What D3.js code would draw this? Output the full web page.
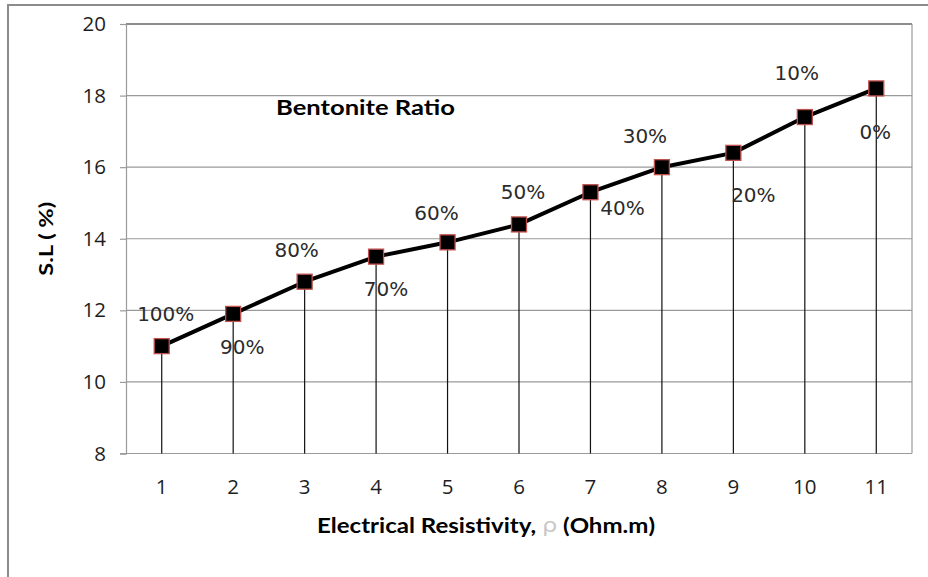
<!DOCTYPE html>
<html>
<head>
<meta charset="utf-8">
<script src="https://cdn.jsdelivr.net/npm/d3@7/dist/d3.min.js"></script>
<style>
  html, body { margin: 0; padding: 0; background: #fff; }
  svg { display: block; }
</style>
</head>
<body>
<svg id="chart" width="928" height="577"></svg>
<script>
// Shrinkage limit vs. electrical resistivity, labelled by bentonite ratio
const categories = ["1", "2", "3", "4", "5", "6", "7", "8", "9", "10", "11"];
const shrinkageLimit = [11.0, 11.9, 12.8, 13.5, 13.9, 14.4, 15.3, 16.0, 16.4, 17.4, 18.2];
const bentoniteRatio = ["100%", "90%", "80%", "70%", "60%", "50%", "40%", "30%", "20%", "10%", "0%"];
const yTicks = [8, 10, 12, 14, 16, 18, 20];

// label placement around each marker (dx, dy in px)
const labelOffsets = [
  [4, -32], [9, 33], [-8, -32], [10, 32], [-11, -29], [4, -32],
  [32, 16], [-17, -31], [20, 42], [-8, -44], [-1, 44]
];

const svg = d3.select("#chart");
const W = 928, H = 577;
const plot = { left: 126, right: 912, top: 24, bottom: 453.5 };
const sans = "'Open Sans', Lato, sans-serif";

// outer chart frame
svg.append("rect")
  .attr("x", 8).attr("y", 5)
  .attr("width", W + 20).attr("height", H + 20)
  .attr("fill", "#fff")
  .attr("stroke", "#8c8c8c").attr("stroke-width", 2);

const x = d3.scaleBand().domain(categories).range([plot.left, plot.right]);
const y = d3.scaleLinear().domain([8, 20]).range([plot.bottom, plot.top]);
const cx = d => x(d) + x.bandwidth() / 2;

// gridlines
svg.append("g")
  .selectAll("line").data(yTicks.slice(1, -1)).join("line")
  .attr("x1", plot.left).attr("x2", plot.right)
  .attr("y1", d => y(d)).attr("y2", d => y(d))
  .attr("stroke", "#9a9a9a").attr("stroke-width", 1.2);

// plot area border
svg.append("line")
  .attr("x1", plot.left).attr("x2", plot.right)
  .attr("y1", y(20)).attr("y2", y(20))
  .attr("stroke", "#1a1a1a").attr("stroke-width", 1.2);
svg.append("line")
  .attr("x1", plot.right).attr("x2", plot.right)
  .attr("y1", plot.top).attr("y2", plot.bottom)
  .attr("stroke", "#9a9a9a").attr("stroke-width", 1.2);

// y axis
const yAxis = svg.append("g")
  .attr("transform", `translate(${plot.left},0)`)
  .call(d3.axisLeft(y).tickValues(yTicks).tickSize(6).tickPadding(14));
yAxis.select(".domain").attr("stroke", "#9a9a9a").attr("stroke-width", 1.2);
yAxis.selectAll(".tick line").attr("stroke", "#9a9a9a").attr("stroke-width", 1.2);
yAxis.selectAll(".tick text")
  .attr("font-family", sans)
  .attr("font-size", 20.5).attr("fill", "#1e1e1e");

// x axis
const xAxis = svg.append("g")
  .attr("transform", `translate(0,${plot.bottom})`)
  .call(d3.axisBottom(x).tickSize(0).tickPadding(26));
xAxis.select(".domain").remove();
svg.append("line")
  .attr("x1", plot.left - 6).attr("x2", plot.right)
  .attr("y1", plot.bottom).attr("y2", plot.bottom)
  .attr("stroke", "#9a9a9a").attr("stroke-width", 1.2);
xAxis.selectAll(".tick text")
  .attr("font-family", sans)
  .attr("font-size", 20.5).attr("fill", "#1e1e1e");

// drop lines
svg.append("g")
  .selectAll("line").data(categories).join("line")
  .attr("x1", d => cx(d)).attr("x2", d => cx(d))
  .attr("y1", (d, i) => y(shrinkageLimit[i])).attr("y2", plot.bottom)
  .attr("stroke", "#111").attr("stroke-width", 1.2);

// series line
const line = d3.line().x((d, i) => cx(categories[i])).y(d => y(d));
svg.append("path")
  .datum(shrinkageLimit)
  .attr("d", line)
  .attr("fill", "none").attr("stroke", "#000").attr("stroke-width", 4)
  .attr("stroke-linejoin", "round");

// markers
const ms = 15;
svg.append("g")
  .selectAll("rect").data(shrinkageLimit).join("rect")
  .attr("x", (d, i) => cx(categories[i]) - ms / 2)
  .attr("y", d => y(d) - ms / 2)
  .attr("width", ms).attr("height", ms)
  .attr("fill", "#000").attr("stroke", "#c0504d").attr("stroke-width", 1.3);

// data labels
svg.append("g")
  .selectAll("text").data(bentoniteRatio).join("text")
  .attr("x", (d, i) => cx(categories[i]) + labelOffsets[i][0])
  .attr("y", (d, i) => y(shrinkageLimit[i]) + labelOffsets[i][1])
  .attr("text-anchor", "middle").attr("dominant-baseline", "central")
  .attr("font-family", "'DejaVu Sans', Verdana, sans-serif")
  .attr("font-size", 20).attr("fill", "#2b2b2b")
  .text(d => d);

// in-plot legend title
svg.append("text")
  .attr("x", 276).attr("y", 106)
  .attr("dominant-baseline", "central")
  .attr("font-family", "Lato, 'Open Sans', sans-serif")
  .attr("font-weight", "bold").attr("font-size", 21).attr("fill", "#000")
  .attr("textLength", 179).attr("lengthAdjust", "spacingAndGlyphs")
  .text("Bentonite Ratio");

// axis titles
const xt = svg.append("text")
  .attr("x", 317).attr("y", 525)
  .attr("dominant-baseline", "central")
  .attr("font-family", "Lato, 'Open Sans', sans-serif")
  .attr("font-weight", "bold").attr("font-size", 20).attr("fill", "#000")
  .attr("textLength", 338).attr("lengthAdjust", "spacingAndGlyphs");
xt.append("tspan").text("Electrical Resistivity, ");
xt.append("tspan").attr("fill", "#c8c8c8").attr("font-weight", "normal")
  .attr("font-family", "'DejaVu Sans', sans-serif").text("ρ");
xt.append("tspan").text(" (Ohm.m)");

svg.append("text")
  .attr("transform", `translate(45,${(plot.top + plot.bottom) / 2}) rotate(-90)`)
  .attr("text-anchor", "middle").attr("dominant-baseline", "central")
  .attr("font-family", "Lato, 'Open Sans', sans-serif")
  .attr("font-weight", "bold").attr("font-size", 19).attr("fill", "#000")
  .attr("textLength", 74).attr("lengthAdjust", "spacingAndGlyphs")
  .text("S.L ( %)");
</script>
</body>
</html>
